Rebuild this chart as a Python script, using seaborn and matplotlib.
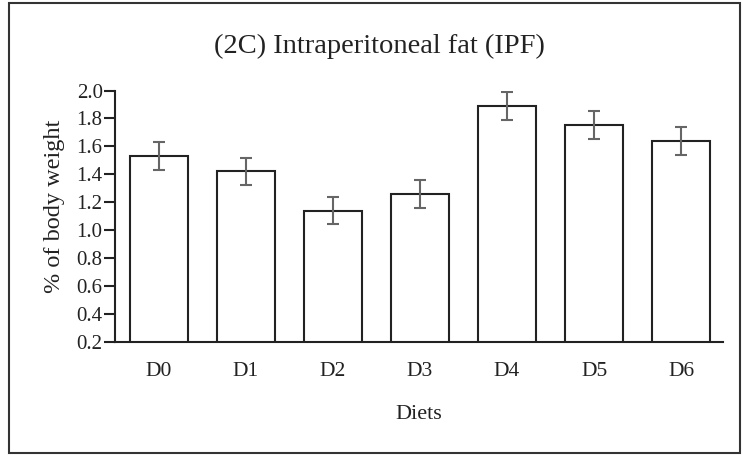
import matplotlib
matplotlib.use("Agg")
import matplotlib.pyplot as plt
import seaborn as sns
import pandas as pd
from matplotlib.patches import Rectangle

diets = ["D0", "D1", "D2", "D3", "D4", "D5", "D6"]
values = [1.53, 1.42, 1.14, 1.26, 1.89, 1.75, 1.64]
errors = [0.10, 0.10, 0.10, 0.10, 0.10, 0.10, 0.10]
yticks = [0.2, 0.4, 0.6, 0.8, 1.0, 1.2, 1.4, 1.6, 1.8, 2.0]

sns.set_theme(style="ticks")
plt.rcParams["font.family"] = ["Liberation Serif", "DejaVu Serif"]

df = pd.DataFrame({"Diet": diets, "Value": values})

fig = plt.figure(figsize=(7.43, 4.55), dpi=100)
ax = fig.add_axes([0.155, 0.249, 0.818, 0.552])

sns.barplot(data=df, x="Diet", y="Value", ax=ax, color="white",
            edgecolor="#222222", linewidth=1.5, width=0.67, errorbar=None)
ax.errorbar(range(len(diets)), values, yerr=errors, fmt="none",
            ecolor="#666666", elinewidth=1.5, capsize=4, capthick=1.5)

ax.set_ylim(0.2, 2.0)
ax.set_xlim(-0.5, 6.48)
ax.set_yticks(yticks)
ax.set_yticklabels([f"{t:.1f}" for t in yticks])
sns.despine(ax=ax)
for s in ["left", "bottom"]:
    ax.spines[s].set_linewidth(1.5)
    ax.spines[s].set_color("#222222")
ax.tick_params(axis="y", length=8, width=1.5, color="#222222", labelsize=15, pad=1)
ax.tick_params(axis="x", length=0, labelsize=15.5, pad=14.5)
for lab in ax.get_xticklabels() + ax.get_yticklabels():
    lab.set_color("#222222")

ax.set_xlabel("")
ax.set_ylabel("")
fig.text(0.564, 0.09, "Diets", fontsize=16, ha="center", va="center", color="#222222")
fig.text(0.073, 0.547, "% of body weight", fontsize=17.5, rotation=90,
         ha="center", va="center", color="#222222")
fig.text(0.511, 0.899, "(2C) Intraperitoneal fat (IPF)", fontsize=20.5,
         ha="center", va="center", color="#222222")

fig.patches.append(Rectangle((0.012, 0.005), 0.984, 0.988, transform=fig.transFigure,
                             fill=False, edgecolor="#333333", linewidth=1.5))

fig.savefig("out.png", dpi=100)
